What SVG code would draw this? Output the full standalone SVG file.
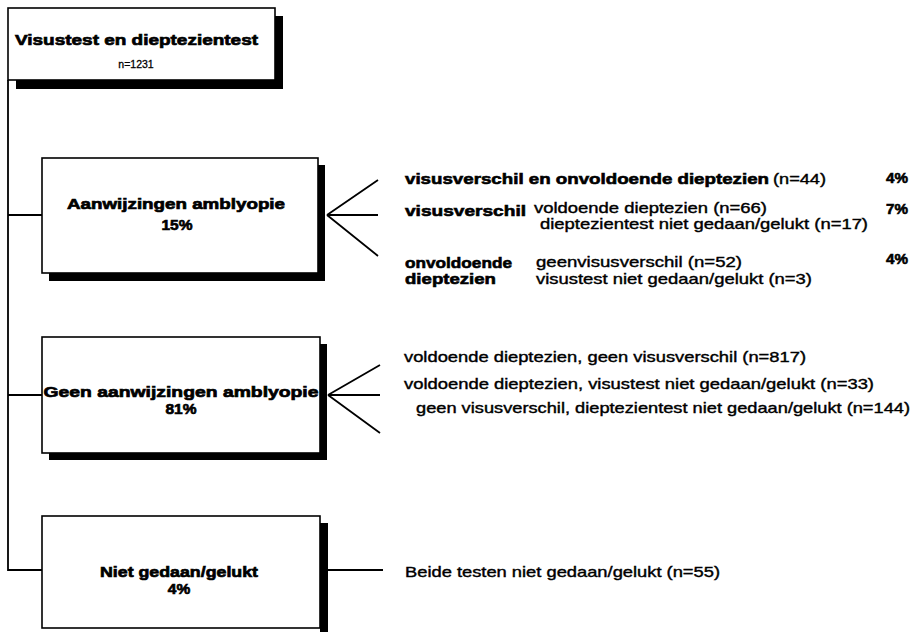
<svg xmlns="http://www.w3.org/2000/svg" width="918" height="632" viewBox="0 0 918 632">
<style>
.box{fill:#fff;stroke:#000;stroke-width:1.6}
.sh{fill:#000}
.ln{stroke:#000;stroke-width:1.8;fill:none}
text{font-family:"Liberation Sans",Arial,sans-serif;fill:#000}
.b{font-weight:bold;font-size:15px;stroke:#000;stroke-width:0.6}
.bb{font-weight:bold;font-size:15.5px;stroke:#000;stroke-width:0.7}
.r{font-size:15px;stroke:#000;stroke-width:0.4}
.c{text-anchor:middle}
.s{font-size:10.5px;stroke:#000;stroke-width:0.3}
</style>
<rect width="918" height="632" fill="#fff"/>
<g id="connectors">
<path class="ln" d="M8 80 V570 H42"/>
<path class="ln" d="M8 215 H42"/>
<path class="ln" d="M8 395 H42"/>
<path class="ln" d="M327 215 L378 180 M327 215 H378 M327 215 L378 256"/>
<path class="ln" d="M328 395 L380 365 M328 395 H380 M328 395 L380 433"/>
<path class="ln" d="M328 570 H383"/>
</g>
<g id="root">
<rect class="sh" x="16" y="16" width="267" height="73"/>
<rect class="box" x="8" y="8" width="267" height="72"/>
<text class="bb" x="15" y="45" font-size="16.5" textLength="243" lengthAdjust="spacingAndGlyphs">Visustest en dieptezientest</text>
<text class="s c" x="136" y="68">n=1231</text>
</g>
<g id="aanwijzingen">
<rect class="sh" x="49" y="165" width="276" height="116"/>
<rect class="box" x="42" y="158" width="276" height="115"/>
<text class="bb c" x="176" y="209" font-size="16.5" textLength="218" lengthAdjust="spacingAndGlyphs">Aanwijzingen amblyopie</text>
<text class="bb c" x="177" y="230" font-size="16.5">15%</text>
</g>
<g id="geen">
<rect class="sh" x="49" y="344" width="278" height="116"/>
<rect class="box" x="42" y="337" width="278" height="116"/>
<text class="bb c" x="181" y="397" textLength="275" lengthAdjust="spacingAndGlyphs">Geen aanwijzingen amblyopie</text>
<text class="bb c" x="181" y="414">81%</text>
</g>
<g id="niet">
<rect class="sh" x="320" y="523" width="8" height="109"/>
<rect class="box" x="42" y="516" width="278" height="112"/>
<text class="bb c" x="179" y="577" textLength="158" lengthAdjust="spacingAndGlyphs">Niet gedaan/gelukt</text>
<text class="bb c" x="179" y="594">4%</text>
</g>
<g id="a-texts">
<text class="b" x="405" y="184" textLength="364" lengthAdjust="spacingAndGlyphs">visusverschil en onvoldoende dieptezien</text>
<text class="r" x="773" y="184" textLength="53" lengthAdjust="spacingAndGlyphs">(n=44)</text>
<text class="b" x="886" y="183" textLength="22" lengthAdjust="spacingAndGlyphs">4%</text>
<text class="b" x="405" y="216" textLength="121" lengthAdjust="spacingAndGlyphs">visusverschil</text>
<text class="r" x="534" y="213" font-size="14" textLength="233" lengthAdjust="spacingAndGlyphs">voldoende dieptezien (n=66)</text>
<text class="r" x="540" y="229" font-size="14" textLength="328" lengthAdjust="spacingAndGlyphs">dieptezientest niet gedaan/gelukt (n=17)</text>
<text class="b" x="886" y="214" textLength="22" lengthAdjust="spacingAndGlyphs">7%</text>
<text class="b" x="405" y="268" textLength="107" lengthAdjust="spacingAndGlyphs">onvoldoende</text>
<text class="b" x="405" y="284" textLength="91" lengthAdjust="spacingAndGlyphs">dieptezien</text>
<text class="r" x="536" y="267" font-size="14" textLength="206" lengthAdjust="spacingAndGlyphs">geenvisusverschil (n=52)</text>
<text class="r" x="536" y="284" font-size="14" textLength="276" lengthAdjust="spacingAndGlyphs">visustest niet gedaan/gelukt (n=3)</text>
<text class="b" x="886" y="264" textLength="22" lengthAdjust="spacingAndGlyphs">4%</text>
</g>
<g id="g-texts">
<text class="r" x="404" y="362" textLength="402" lengthAdjust="spacingAndGlyphs">voldoende dieptezien, geen visusverschil (n=817)</text>
<text class="r" x="404" y="389" textLength="470" lengthAdjust="spacingAndGlyphs">voldoende dieptezien, visustest niet gedaan/gelukt (n=33)</text>
<text class="r" x="416" y="413" textLength="494" lengthAdjust="spacingAndGlyphs">geen visusverschil, dieptezientest niet gedaan/gelukt (n=144)</text>
</g>
<g id="n-texts">
<text class="r" x="405" y="577" textLength="315" lengthAdjust="spacingAndGlyphs">Beide testen niet gedaan/gelukt (n=55)</text>
</g>
</svg>
